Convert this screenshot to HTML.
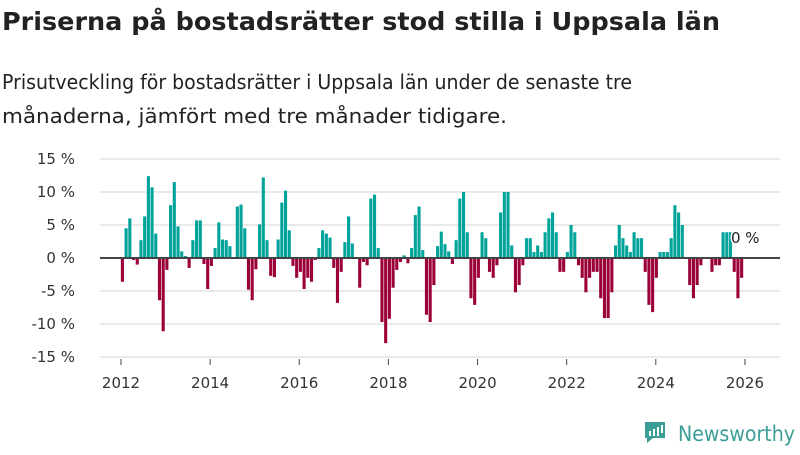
<!DOCTYPE html>
<html><head><meta charset="utf-8"><style>
body{margin:0;width:800px;height:450px;background:#fff;overflow:hidden;font-family:"Liberation Sans","DejaVu Sans",sans-serif;}
</style></head><body>
<svg width="800" height="450" xmlns="http://www.w3.org/2000/svg">
<text x="2" y="30" font-size="25" font-weight="bold" fill="#222" font-family="DejaVu Sans, sans-serif" textLength="718" lengthAdjust="spacingAndGlyphs">Priserna på bostadsrätter stod stilla i Uppsala län</text>
<text x="2" y="89" font-size="20" fill="#222" font-family="DejaVu Sans, sans-serif" textLength="630" lengthAdjust="spacingAndGlyphs">Prisutveckling för bostadsrätter i Uppsala län under de senaste tre</text>
<text x="2" y="123" font-size="20" fill="#222" font-family="DejaVu Sans, sans-serif" textLength="505" lengthAdjust="spacingAndGlyphs">månaderna, jämfört med tre månader tidigare.</text>
<g id="grid"></g><g id="bars"></g><g id="axes"></g>
<g>
<path d="M645 422 h20 v16 h-12 l-6 5 v-5 h-2 z" fill="#3a9e97"/>
<rect x="649" y="431" width="2" height="5" fill="#fff"/><rect x="653" y="429" width="2" height="7" fill="#fff"/><rect x="657" y="427" width="2" height="9" fill="#fff"/><rect x="661" y="425" width="2" height="8" fill="#fff"/>
<text x="678" y="441" font-size="21" fill="#3a9e97" font-family="DejaVu Sans, sans-serif" textLength="117" lengthAdjust="spacingAndGlyphs">Newsworthy</text>
</g>
</svg>
<script>
const values=[-3.6,4.5,6.0,-0.3,-1.0,2.7,6.3,12.4,10.7,3.7,-6.4,-11.1,-1.8,8.0,11.5,4.8,1.0,0.3,-1.5,2.7,5.7,5.7,-0.9,-4.7,-1.2,1.5,5.4,2.8,2.7,1.8,0,7.8,8.1,4.5,-4.8,-6.4,-1.7,5.1,12.2,2.7,-2.7,-2.9,2.8,8.4,10.2,4.2,-1.2,-3.0,-2.1,-4.7,-3.0,-3.6,-0.3,1.5,4.2,3.7,3.1,-1.5,-6.8,-2.1,2.4,6.3,2.2,0,-4.5,-0.6,-1.1,9.0,9.6,1.5,-9.7,-12.9,-9.2,-4.5,-1.8,-0.6,0.4,-0.8,1.5,6.5,7.8,1.2,-8.6,-9.7,-4.1,1.8,4.0,2.1,1.0,-0.9,2.7,9.0,10.0,3.9,-6.1,-7.1,-3.0,3.9,3.0,-2.1,-3.0,-1.1,6.9,10.0,10.0,1.9,-5.2,-4.1,-1.1,3.0,3.0,0.9,1.9,0.9,3.9,6.0,6.9,3.9,-2.1,-2.1,0.9,5.0,3.9,-1.1,-3.0,-5.2,-3.0,-2.1,-2.1,-6.1,-9.1,-9.1,-5.2,1.9,5.0,3.0,1.9,0.9,3.9,3.0,3.0,-2.1,-7.1,-8.2,-3.0,0.9,0.9,0.9,3.0,8.0,6.9,5.0,0,-4.1,-6.1,-4.1,-1.1,0,0,-2.1,-1.1,-1.1,3.9,3.9,3.9,-2.1,-6.1,-3.0];
const yTicks=[15,10,5,0,-5,-10,-15];
const xTickYears=[2012,2014,2016,2018,2020,2022,2024,2026];
const lastLabel="0 %";
const NS="http://www.w3.org/2000/svg";
function y(v){return 258-v*6.6;}
function x(i){return 122.4+i*3.708;}
function xYear(yr){return 121+(yr-2012)*12*3.714;}
function mk(t,a,p){const e=document.createElementNS(NS,t);for(const k in a)e.setAttribute(k,a[k]);p.appendChild(e);return e;}
const grid=document.getElementById('grid'),bars=document.getElementById('bars'),axes=document.getElementById('axes');
yTicks.forEach(t=>{
 const l=mk('line',{x1:100,x2:780,y1:y(t),y2:y(t),stroke:'#e3e3e3','stroke-width':1.5},grid);
 
 
 const tx=mk('text',{x:75,y:y(t)+5,'text-anchor':'end','font-size':15,fill:'#333','font-family':'DejaVu Sans, sans-serif'},axes);
 tx.textContent=t+' %';
 
 
});
values.forEach((v,i)=>{
 if(v===0)return;
 const r=mk('rect',{x:x(i)-1.55,width:3.1,y:Math.min(y(v),y(0)),height:Math.abs(y(v)-y(0)),fill:v>0?'#00a39a':'#9b0039'},bars);
 
 
});
const zl=mk('line',{x1:100,x2:780,y1:y(0),y2:y(0),stroke:'#444','stroke-width':2},axes);


xTickYears.forEach(yr=>{
 const t=mk('line',{x1:xYear(yr),x2:xYear(yr),y1:359,y2:365,stroke:'#444','stroke-width':1},axes);
 
 
 const tx=mk('text',{x:xYear(yr),y:388,'text-anchor':'middle','font-size':15,fill:'#333','font-family':'DejaVu Sans, sans-serif'},axes);
 tx.textContent=yr;
 
 
});
const ll=mk('text',{x:731,y:243,'font-size':15,fill:'#222','font-family':'DejaVu Sans, sans-serif',stroke:'#fff','stroke-width':3,'paint-order':'stroke'},axes);
ll.textContent=lastLabel;


</script>
</body></html>
